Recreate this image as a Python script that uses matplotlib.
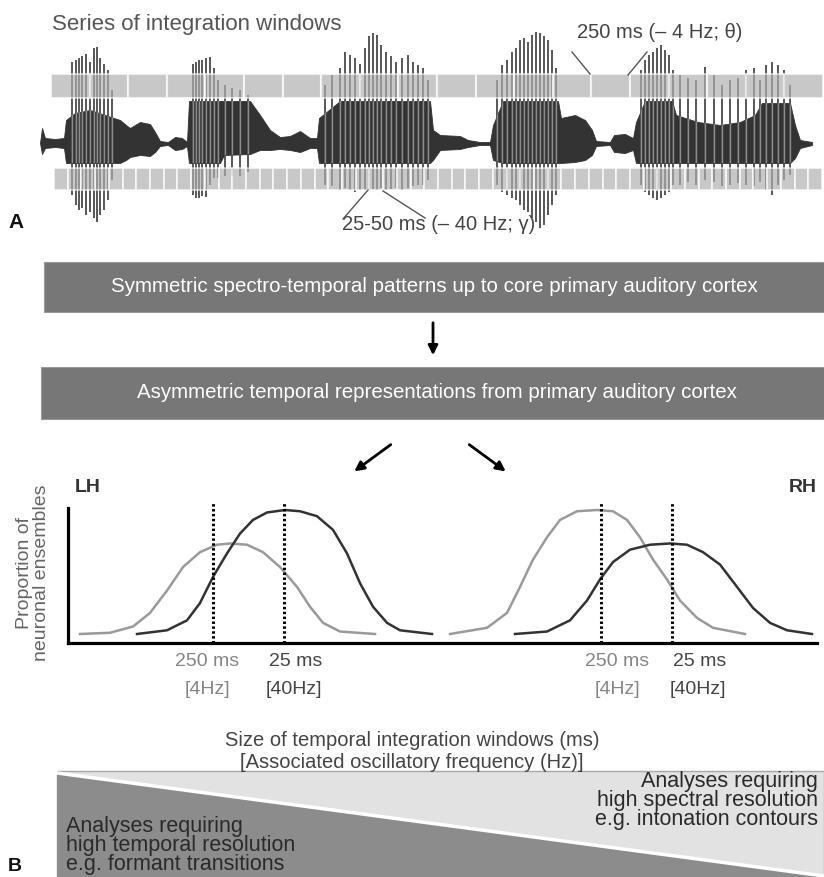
import numpy as np
import matplotlib
matplotlib.use("Agg")
import matplotlib.pyplot as plt
from matplotlib.patches import Rectangle, Polygon

plt.rcParams['font.family'] = ['Liberation Sans', 'DejaVu Sans']

# ---------------- data (pixel-based schematic units) ----------------
# speech waveform envelope (x, upper edge, lower edge)
wave_x = [40, 42, 45, 55, 64, 66, 75, 90, 105, 120, 126, 130, 140, 150, 155, 160, 168, 175, 182, 187,
          189, 220, 224, 250, 260, 270, 280, 290, 300, 310, 317, 319, 340, 430, 433, 440, 460, 468, 480,
          490, 493, 503, 558, 561, 575, 585, 592, 596, 610, 614, 625, 633, 636, 645, 672, 676, 698, 720,
          740, 755, 762, 790, 795, 800, 812]
wave_top = [143, 128, 138, 139, 138, 120, 113, 110, 115, 120, 125, 128, 122, 124, 132, 141, 142, 137, 138, 142,
            101, 101, 101, 101, 115, 130, 137, 136, 131, 138, 138, 118, 101, 101, 130, 135, 136, 140, 142,
            142, 125, 101, 101, 118, 115, 120, 130, 141, 142, 135, 134, 138, 122, 101, 101, 115, 122, 125,
            122, 115, 103, 103, 125, 140, 142]
wave_bot = [143, 154, 148, 147, 148, 163, 163, 163, 163, 163, 160, 157, 155, 156, 152, 146, 145, 150, 149, 146,
            163, 163, 155, 154, 150, 150, 149, 150, 152, 148, 148, 163, 163, 163, 160, 150, 149, 147, 145,
            145, 160, 163, 163, 163, 162, 160, 155, 146, 145, 152, 153, 150, 163, 163, 163, 163, 163, 163,
            163, 163, 163, 163, 158, 148, 145]

# individual spikes of the waveform (x, top, bottom)
spike_x = [72, 76, 79, 82, 86, 90, 94, 97, 100, 104, 108, 112,
           193, 196, 199, 202, 206, 210, 214, 218, 225, 232, 240, 248,
           325, 332, 340, 345, 350, 355, 360, 365, 369, 373, 377, 381, 386, 391, 396, 402, 408, 413, 418, 423, 428,
           497, 502, 507, 512, 516, 520, 524, 528, 532, 536, 540, 544, 548, 552, 556,
           641, 645, 649, 653, 657, 661, 665, 669, 673, 680, 688, 696, 705, 714, 722, 730, 738, 746, 754, 760,
           766, 772, 778, 784, 790]
spike_top = [62, 60, 58, 56, 54, 62, 48, 47, 58, 64, 70, 90,
             64, 62, 60, 60, 58, 57, 68, 80, 85, 88, 90, 95,
             85, 75, 68, 52, 55, 58, 64, 48, 36, 33, 35, 45, 52, 56, 62, 58, 55, 62, 65, 68, 80,
             80, 65, 60, 52, 48, 40, 38, 42, 35, 32, 33, 36, 40, 50, 68,
             70, 60, 55, 52, 48, 45, 50, 55, 70, 75, 78, 80, 67, 75, 85, 80, 78, 70, 68, 80,
             65, 62, 65, 70, 85]
spike_bot = [195, 205, 210, 208, 215, 212, 218, 222, 215, 210, 200, 180,
             195, 198, 198, 196, 197, 185, 178, 178, 176, 176, 176, 172,
             185, 186, 190, 188, 190, 192, 190, 190, 190, 189, 190, 188, 190, 189, 188, 190, 188, 186, 185, 185, 180,
             185, 192, 195, 198, 200, 205, 210, 212, 218, 222, 228, 225, 215, 205, 195,
             185, 192, 195, 198, 200, 198, 195, 192, 185, 185, 182, 185, 180, 182, 186, 185, 183, 185, 186, 182,
             190, 195, 185, 180, 175]

n_theta_windows = 20
n_gamma_windows = 56

# neuronal-ensemble distributions (x along the window-size axis, proportion)
lh_gray_x = [80, 110, 133, 150, 167, 183, 200, 217, 230, 247, 263, 280, 297, 310, 323, 340, 375]
lh_gray_y = [0.0, 0.01, 0.06, 0.17, 0.35, 0.54, 0.66, 0.72, 0.73, 0.72, 0.66, 0.54, 0.38, 0.22, 0.09, 0.02, 0.0]
lh_dark_x = [137, 167, 187, 200, 213, 227, 240, 253, 267, 285, 300, 317, 333, 347, 360, 373, 387, 400, 432]
lh_dark_y = [0.0, 0.03, 0.11, 0.25, 0.46, 0.65, 0.81, 0.92, 0.98, 1.0, 0.99, 0.95, 0.84, 0.65, 0.41, 0.22, 0.09, 0.03, 0.0]
rh_gray_x = [450, 487, 507, 520, 533, 547, 560, 577, 597, 613, 627, 640, 653, 667, 680, 697, 713, 745]
rh_gray_y = [0.0, 0.05, 0.17, 0.38, 0.60, 0.78, 0.92, 0.99, 1.0, 0.99, 0.92, 0.78, 0.60, 0.44, 0.27, 0.13, 0.05, 0.0]
rh_dark_x = [515, 547, 570, 587, 600, 613, 630, 650, 670, 687, 703, 720, 737, 753, 770, 787, 812]
rh_dark_y = [0.0, 0.02, 0.11, 0.27, 0.44, 0.58, 0.68, 0.72, 0.73, 0.72, 0.66, 0.56, 0.38, 0.21, 0.09, 0.03, 0.0]

marker_x = [213, 284, 601, 672]
tick_labels = [("250 ms", "[4Hz]"), ("25 ms", "[40Hz]")]

# ---------------- figure ----------------
W, H = 824, 877
fig = plt.figure(figsize=(W / 100, H / 100), dpi=100)
ax = fig.add_axes([0, 0, 1, 1])
ax.set_xlim(0, W)
ax.set_ylim(H, 0)
ax.axis('off')

# --- panel A: waveform with integration windows ---
ax.text(52, 30, "Series of integration windows", fontsize=16, color='#555555', va='baseline', ha='left')

theta_x0, theta_x1, theta_y, theta_h = 51, 823, 74, 24
gamma_x0, gamma_x1, gamma_y, gamma_h = 54, 822, 168, 22
tw = (theta_x1 - theta_x0) / n_theta_windows
gw = (gamma_x1 - gamma_x0) / n_gamma_windows
for i in range(n_theta_windows):
    ax.add_patch(Rectangle((theta_x0 + i * tw, theta_y), tw, theta_h, fc='#c8c8c8', ec='white', lw=1.5, zorder=1))
for i in range(n_gamma_windows):
    ax.add_patch(Rectangle((gamma_x0 + i * gw, gamma_y), gw, gamma_h, fc='#c8c8c8', ec='white', lw=1.3, zorder=1))

body = ax.fill_between(wave_x, wave_top, wave_bot, color='#333333', lw=0.6, zorder=2)
ax.vlines(spike_x, spike_top, spike_bot, color='#4a4a4a', lw=1.3, zorder=2)
light = ax.vlines(spike_x, spike_top, spike_bot, color='#8c8c8c', lw=1.0, zorder=2.5)
light.set_clip_path(body.get_paths()[0], transform=ax.transData)

for i in range(n_theta_windows):
    ax.add_patch(Rectangle((theta_x0 + i * tw, theta_y), tw, theta_h, fc='#c8c8c8', ec='white', lw=1.5,
                           alpha=0.55, zorder=3))
for i in range(n_gamma_windows):
    ax.add_patch(Rectangle((gamma_x0 + i * gw, gamma_y), gw, gamma_h, fc='#c8c8c8', ec='white', lw=1.3,
                           alpha=0.55, zorder=3))

ax.text(577, 32, "250 ms (– 4 Hz; θ)", fontsize=14.5, color='#444444', va='center', ha='left', zorder=5)
ax.plot([572, 590], [52, 74], color='#555555', lw=1, zorder=5)
ax.plot([647, 628], [52, 75], color='#555555', lw=1, zorder=5)
ax.text(342, 224, "25-50 ms (– 40 Hz; γ)", fontsize=14.5, color='#444444', va='center', ha='left', zorder=5)
ax.plot([368, 343], [190, 219], color='#555555', lw=1, zorder=5)
ax.plot([383, 425], [191, 218], color='#555555', lw=1, zorder=5)
ax.text(8, 222, "A", fontsize=15, fontweight='bold', color='#111111', va='center', ha='left')

# --- panel B: flow boxes ---
ax.add_patch(Rectangle((44, 262), 780, 50, fc='#777777', ec='#9a9a9a', lw=0.8))
ax.text(434, 287, "Symmetric spectro-temporal patterns up to core primary auditory cortex",
        fontsize=14.8, color='white', ha='center', va='center')
ax.annotate('', xy=(433, 358), xytext=(433, 320),
            arrowprops=dict(arrowstyle='-|>', lw=2, color='black', mutation_scale=14))
ax.add_patch(Rectangle((41, 367), 783, 52, fc='#777777', ec='#9a9a9a', lw=0.8))
ax.text(437, 393, "Asymmetric temporal representations from primary auditory cortex",
        fontsize=14.8, color='white', ha='center', va='center')
ax.annotate('', xy=(352, 473), xytext=(393, 443),
            arrowprops=dict(arrowstyle='-|>', lw=2, color='black', mutation_scale=14))
ax.annotate('', xy=(508, 473), xytext=(467, 443),
            arrowprops=dict(arrowstyle='-|>', lw=2, color='black', mutation_scale=14))

ax.text(75, 488, "LH", fontsize=14, fontweight='bold', color='#333333', va='center', ha='left')
ax.text(817, 488, "RH", fontsize=14, fontweight='bold', color='#333333', va='center', ha='right')
ax.text(33, 573, "Proportion of\nneuronal ensembles", fontsize=14, color='#666666', rotation=90,
        ha='center', va='center', linespacing=0.95)

# --- distributions ---
base_px, scale_px = 634, 124
ax_l, ax_r, ax_t, ax_b = 68, 817, 508, 643
cax = fig.add_axes([ax_l / W, (H - ax_b) / H, (ax_r - ax_l) / W, (ax_b - ax_t) / H])
cax.set_xlim(ax_l, ax_r)
cax.set_ylim((base_px - ax_b) / scale_px, (base_px - ax_t) / scale_px)
cax.patch.set_alpha(0)
for s in ('top', 'right'):
    cax.spines[s].set_visible(False)
for s in ('left', 'bottom'):
    cax.spines[s].set_linewidth(2.3)
    cax.spines[s].set_color('black')
cax.set_xticks([])
cax.set_yticks([])

cax.plot(lh_gray_x, lh_gray_y, color='#9a9a9a', lw=1.8, solid_joinstyle='round')
cax.plot(lh_dark_x, lh_dark_y, color='#333333', lw=1.8, solid_joinstyle='round')
cax.plot(rh_gray_x, rh_gray_y, color='#9a9a9a', lw=1.8, solid_joinstyle='round')
cax.plot(rh_dark_x, rh_dark_y, color='#333333', lw=1.8, solid_joinstyle='round')
cax.vlines(marker_x, (base_px - ax_b) / scale_px, (base_px - 502) / scale_px, colors='black',
           lw=2.2, linestyles=(0, (0.8, 0.8)), clip_on=False)

label_pos = [(207, 296), (617, 700)]
for (x250, x25) in label_pos:
    ax.text(x250, 662, tick_labels[0][0], fontsize=14, color='#858585', ha='center', va='center')
    ax.text(x250, 689, tick_labels[0][1], fontsize=14, color='#858585', ha='center', va='center')
    ax.text(x25, 662, tick_labels[1][0], fontsize=14, color='#444444', ha='center', va='center')
    ax.text(x25 - 2, 689, tick_labels[1][1], fontsize=14, color='#444444', ha='center', va='center')

ax.text(412, 741, "Size of temporal integration windows (ms)", fontsize=14.5, color='#444444',
        ha='center', va='center')
ax.text(412, 763, "[Associated oscillatory frequency (Hz)]", fontsize=14.5, color='#444444',
        ha='center', va='center')

# --- resolution wedge ---
ax.add_patch(Rectangle((57, 771), 767, 110, fc='#e2e2e2', ec='#a8a8a8', lw=1))
ax.add_patch(Polygon([(57, 773), (824, 876), (824, 880), (57, 880)], closed=True, fc='#8c8c8c', ec='none'))
ax.plot([57, 824], [773, 876], color='white', lw=2.5)

ax.text(66, 870, "Analyses requiring\nhigh temporal resolution\ne.g. formant transitions",
        fontsize=15.5, color='#2a2a2a', ha='left', va='baseline', linespacing=0.86)
ax.text(818, 825, "Analyses requiring\nhigh spectral resolution\ne.g. intonation contours",
        fontsize=15.5, color='#2a2a2a', ha='right', va='baseline', linespacing=0.88, multialignment='right')
ax.text(8, 858, "B", fontsize=14, fontweight='bold', color='#111111', ha='left', va='top')

fig.savefig("out.png", dpi=100)
